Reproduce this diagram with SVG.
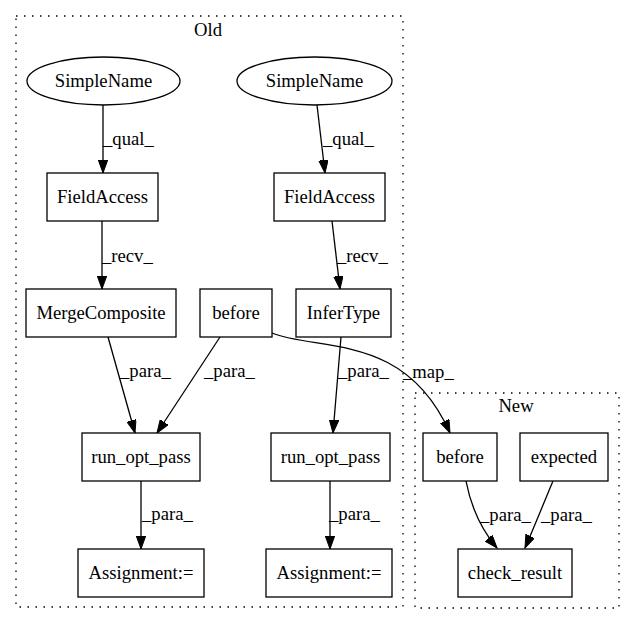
<svg xmlns="http://www.w3.org/2000/svg" width="635" height="624" viewBox="0 0 635 624">
<style>
text{font-family:"Liberation Serif","Times New Roman",serif;font-size:18.67px;fill:#000}
.n{text-anchor:middle}
.box{fill:#fff;stroke:#000;stroke-width:1.3}
.cl{fill:none;stroke:#000;stroke-width:1.3;stroke-dasharray:1.5,6.5}
.e{fill:none;stroke:#000;stroke-width:1.3}
</style>
<defs>
<marker id="ah" markerUnits="userSpaceOnUse" markerWidth="14" markerHeight="10" refX="13" refY="4.7" orient="auto">
<path d="M0,0 L13,4.7 L0,9.4 z" fill="#000" stroke="#000" stroke-width="1"/>
</marker>
</defs>
<rect width="635" height="624" fill="#fff"/>
<g id="cluster_old">
<rect class="cl" x="16" y="16" width="387" height="591"/>
<text class="n" x="208" y="36">Old</text>
</g>
<g id="cluster_new">
<rect class="cl" x="415" y="393" width="204" height="215"/>
<text class="n" x="516" y="412">New</text>
</g>
<g id="connectors">
<path class="e" d="M103,105 L103,173" marker-end="url(#ah)"/>
<text x="103" y="145">_qual_</text>
<path class="e" d="M317,105 L325,173" marker-end="url(#ah)"/>
<text x="323" y="145">_qual_</text>
<path class="e" d="M102,221 L102,289" marker-end="url(#ah)"/>
<text x="102" y="262">_recv_</text>
<path class="e" d="M332,221 L340,289" marker-end="url(#ah)"/>
<text x="337" y="262">_recv_</text>
<path class="e" d="M108,337 L135,433" marker-end="url(#ah)"/>
<text x="120" y="377">_para_</text>
<path class="e" d="M220,337 L157,433" marker-end="url(#ah)"/>
<text x="204" y="377">_para_</text>
<path class="e" d="M341,337 L333,433" marker-end="url(#ah)"/>
<text x="338" y="377">_para_</text>
<path class="e" d="M141,481 L141,549" marker-end="url(#ah)"/>
<text x="142" y="520">_para_</text>
<path class="e" d="M330,481 L330,549" marker-end="url(#ah)"/>
<text x="329" y="520">_para_</text>
<path class="e" d="M272,333 C320,352 405,332 450,433" marker-end="url(#ah)"/>
<text x="403" y="378">_map_</text>
<path class="e" d="M466,481 C471,507 480,528 497,548" marker-end="url(#ah)"/>
<text x="480" y="521">_para_</text>
<path class="e" d="M553,481 C545,500 535,525 525,548" marker-end="url(#ah)"/>
<text x="541" y="521">_para_</text>
</g>
<g id="simplename1"><ellipse class="box" cx="103.5" cy="81" rx="76.5" ry="24"/><text class="n" x="103.5" y="87">SimpleName</text></g>
<g id="simplename2"><ellipse class="box" cx="314.5" cy="81" rx="77.5" ry="24"/><text class="n" x="314.5" y="87">SimpleName</text></g>
<g id="fieldaccess1"><rect class="box" x="47" y="173" width="111" height="48"/><text class="n" x="102.5" y="203">FieldAccess</text></g>
<g id="fieldaccess2"><rect class="box" x="274" y="173" width="111" height="48"/><text class="n" x="329.5" y="203">FieldAccess</text></g>
<g id="mergecomposite"><rect class="box" x="26" y="289" width="150" height="48"/><text class="n" x="101" y="319">MergeComposite</text></g>
<g id="before_old"><rect class="box" x="200" y="289" width="72" height="48"/><text class="n" x="236" y="319">before</text></g>
<g id="infertype"><rect class="box" x="296" y="289" width="95" height="48"/><text class="n" x="343.5" y="319">InferType</text></g>
<g id="run_opt_pass1"><rect class="box" x="82" y="433" width="118" height="48"/><text class="n" x="141" y="463">run_opt_pass</text></g>
<g id="run_opt_pass2"><rect class="box" x="271" y="433" width="119" height="48"/><text class="n" x="330.5" y="463">run_opt_pass</text></g>
<g id="assignment1"><rect class="box" x="78" y="549" width="126" height="48"/><text class="n" x="141" y="579">Assignment:=</text></g>
<g id="assignment2"><rect class="box" x="266" y="549" width="126" height="48"/><text class="n" x="329" y="579">Assignment:=</text></g>
<g id="before_new"><rect class="box" x="423" y="433" width="74" height="48"/><text class="n" x="460" y="463">before</text></g>
<g id="expected"><rect class="box" x="520" y="433" width="88" height="48"/><text class="n" x="564" y="463">expected</text></g>
<g id="check_result"><rect class="box" x="458" y="549" width="114" height="48"/><text class="n" x="515" y="579">check_result</text></g>
</svg>
